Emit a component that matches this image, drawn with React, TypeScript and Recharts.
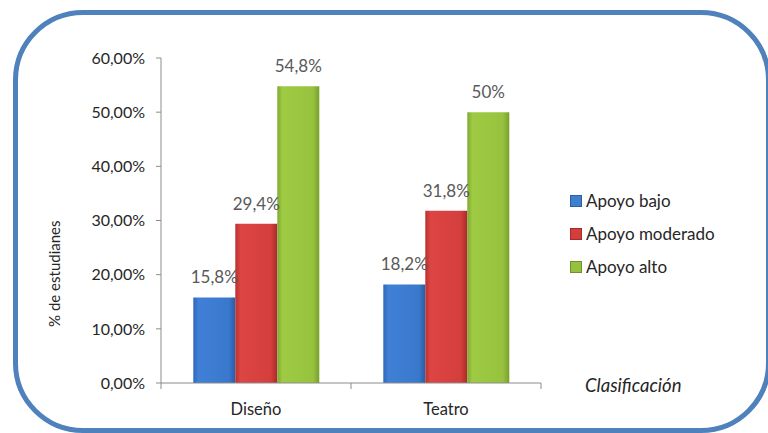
import { BarChart, Bar, XAxis, YAxis, LabelList } from 'recharts';

const categories = ['Diseño', 'Teatro'];
const apoyoBajo = [15.8, 18.2];
const apoyoModerado = [29.4, 31.8];
const apoyoAlto = [54.8, 50];
const yTicks = [0, 10, 20, 30, 40, 50, 60];

const series = [
  { key: 'bajo', name: 'Apoyo bajo', grad: 'gBlue', swatch: '#3f7fd0' },
  { key: 'moderado', name: 'Apoyo moderado', grad: 'gRed', swatch: '#d43d3b' },
  { key: 'alto', name: 'Apoyo alto', grad: 'gGreen', swatch: '#96c13d' },
];

const data = categories.map((c, i) => ({
  name: c,
  bajo: apoyoBajo[i],
  moderado: apoyoModerado[i],
  alto: apoyoAlto[i],
}));

const font = 'Lato, "Open Sans", sans-serif';
const fmtPct = (v: number) => `${String(v).replace('.', ',')}%`;
const fmtTick = (v: number) => `${v.toFixed(2).replace('.', ',')}%`;

function CategoryTick(props: any) {
  const { x, y, payload, index, width, visibleTicksCount } = props;
  const half = width / (2 * visibleTicksCount);
  return (
    <g>
      <line x1={x - half} y1={y} x2={x - half} y2={y + 6} stroke="#8c8c8c" />
      {index === visibleTicksCount - 1 && (
        <line x1={x + half} y1={y} x2={x + half} y2={y + 6} stroke="#8c8c8c" />
      )}
      <text x={x} y={y + 32} textAnchor="middle" fill="#262626" fontSize={16.5} fontFamily={font}>
        {payload.value}
      </text>
    </g>
  );
}

function LegendList() {
  return (
    <div
      style={{
        position: 'absolute',
        left: 570,
        top: 184,
        fontFamily: font,
        fontSize: 17,
        color: '#262626',
      }}
    >
      {series.map((s) => (
        <div key={s.key} style={{ display: 'flex', alignItems: 'center', height: 33 }}>
          <span
            style={{
              width: 10,
              height: 10,
              marginRight: 4,
              background: s.swatch,
              border: '1px solid rgba(0,0,0,0.25)',
              display: 'inline-block',
            }}
          />
          {s.name}
        </div>
      ))}
    </div>
  );
}

export default function App() {
  return (
    <div
      style={{
        position: 'fixed',
        left: 0,
        top: 0,
        width: 768,
        height: 433,
        overflow: 'hidden',
        background: '#ffffff',
      }}
    >
      <div
        style={{
          position: 'absolute',
          left: 13,
          top: 10,
          width: 758,
          height: 423,
          border: '5px solid #4f81bd',
          borderRadius: 70,
          boxSizing: 'border-box',
        }}
      />
      <BarChart
        width={768}
        height={433}
        data={data}
        margin={{ top: 58, right: 227, bottom: 20, left: 101 }}
        barGap={0}
        barCategoryGap="17%"
        style={{ position: 'absolute', left: 0, top: 0 }}
      >
        <defs>
          <linearGradient id="gBlue" x1="0" y1="0" x2="1" y2="0">
            <stop offset="0%" stopColor="#2e67b8" />
            <stop offset="12%" stopColor="#3f80d6" />
            <stop offset="85%" stopColor="#3a78cc" />
            <stop offset="100%" stopColor="#285ca6" />
          </linearGradient>
          <linearGradient id="gRed" x1="0" y1="0" x2="1" y2="0">
            <stop offset="0%" stopColor="#b8302e" />
            <stop offset="12%" stopColor="#dc4543" />
            <stop offset="85%" stopColor="#d43e3c" />
            <stop offset="100%" stopColor="#a82b29" />
          </linearGradient>
          <linearGradient id="gGreen" x1="0" y1="0" x2="1" y2="0">
            <stop offset="0%" stopColor="#7fa832" />
            <stop offset="12%" stopColor="#9ecb43" />
            <stop offset="85%" stopColor="#97c23e" />
            <stop offset="100%" stopColor="#77a02d" />
          </linearGradient>
        </defs>
        <XAxis
          dataKey="name"
          tickLine={false}
          tickSize={0}
          tickMargin={0}
          stroke="#8c8c8c"
          tick={<CategoryTick />}
          interval={0}
        />
        <YAxis
          domain={[0, 60]}
          ticks={yTicks}
          tickFormatter={fmtTick}
          width={60}
          tickSize={5}
          tickMargin={11}
          stroke="#8c8c8c"
          tick={{ fill: '#262626', fontSize: 16, fontFamily: font }}
          interval={0}
          label={{
            value: '% de estudianes',
            angle: -90,
            position: 'left',
            offset: 46,
            fill: '#262626',
            fontSize: 15,
            fontFamily: font,
          }}
        />
        {series.map((s) => (
          <Bar key={s.key} dataKey={s.key} name={s.name} fill={`url(#${s.grad})`} isAnimationActive={false}>
            <LabelList
              dataKey={s.key}
              position="top"
              offset={14}
              formatter={(v: any) => fmtPct(Number(v))}
              fill="#595959"
              fontSize={17}
              fontFamily={font}
            />
          </Bar>
        ))}
      </BarChart>
      <LegendList />
      <span
        style={{
          position: 'absolute',
          left: 585,
          top: 374,
          fontFamily: font,
          fontStyle: 'italic',
          fontSize: 18.5,
          color: '#262626',
        }}
      >
        Clasificación
      </span>
    </div>
  );
}
